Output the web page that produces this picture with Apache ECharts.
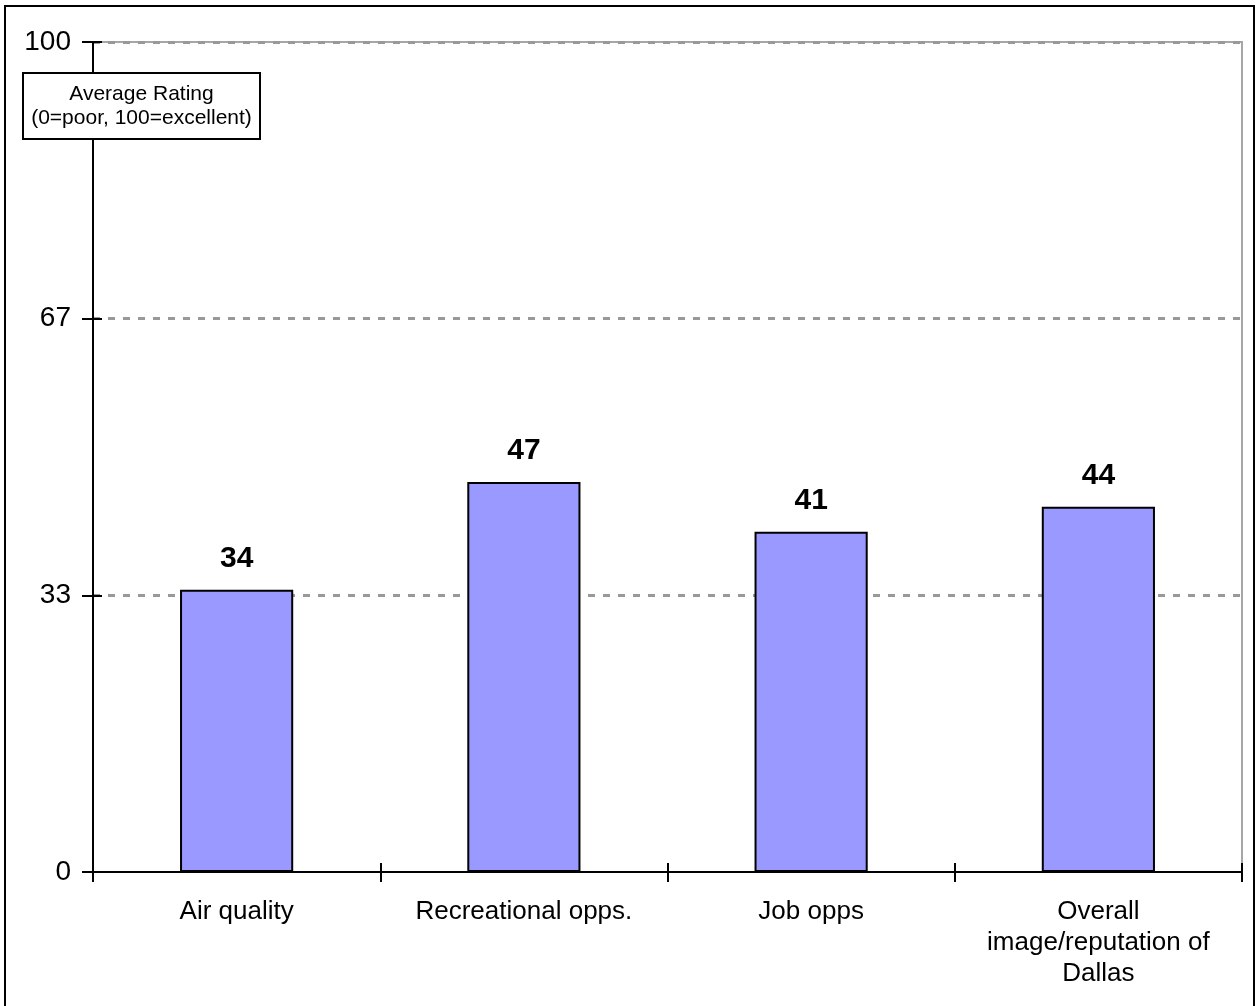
<!DOCTYPE html>
<html>
<head>
<meta charset="utf-8">
<script src="https://cdn.jsdelivr.net/npm/echarts@6/dist/echarts.min.js"></script>
<style>
html,body{margin:0;padding:0;background:#fff;}
#chart{width:1256px;height:1006px;}
</style>
</head>
<body>
<div id="chart"></div>
<script>
const categories = ['Air quality', 'Recreational opps.', 'Job opps', 'Overall\nimage/reputation of\nDallas'];
const ratings = [34, 47, 41, 44];
const yMin = 0;
const yMax = 100;
const yStep = 100 / 3;
const noteLines = ['Average Rating', '(0=poor, 100=excellent)'];

const FONT = '"Liberation Sans", Arial, sans-serif';
const chart = echarts.init(document.getElementById('chart'), null, {renderer: 'canvas'});

chart.setOption({
  backgroundColor: '#ffffff',
  animation: false,
  grid: {
    left: 93, right: 14, top: 42, bottom: 134,
    show: true, borderColor: '#a6a6a6', borderWidth: 2, backgroundColor: 'transparent'
  },
  xAxis: [{
    type: 'category',
    data: categories,
    position: 'bottom',
    boundaryGap: true,
    axisLine: {show: true, lineStyle: {color: '#000', width: 2}},
    axisTick: {show: true, inside: false, length: 10, lineStyle: {color: '#000', width: 2}},
    axisLabel: {
      color: '#000', fontFamily: FONT, fontSize: 26, lineHeight: 31, margin: 24,
      interval: 0, align: 'center'
    },
    splitLine: {show: false},
    z: 5
  }, {
    type: 'category',
    data: categories,
    position: 'bottom',
    boundaryGap: true,
    axisLine: {show: false},
    axisTick: {show: true, inside: true, length: 9, lineStyle: {color: '#000', width: 2}},
    axisLabel: {show: false},
    splitLine: {show: false},
    z: 5
  }],
  yAxis: [{
    type: 'value',
    min: yMin, max: yMax, interval: yStep,
    position: 'left',
    axisLine: {show: true, lineStyle: {color: '#000', width: 2}},
    axisTick: {show: true, inside: false, length: 11, lineStyle: {color: '#000', width: 2}},
    axisLabel: {
      color: '#000', fontFamily: FONT, fontSize: 28, margin: 22,
      formatter: v => String(Math.round(v))
    },
    splitLine: {show: true, showMinLine: false, lineStyle: {color: '#999999', width: 3, type: [7, 8]}}
  }, {
    type: 'value',
    min: yMin, max: yMax, interval: yStep,
    position: 'left',
    axisLine: {show: false},
    axisTick: {show: true, inside: true, length: 9, lineStyle: {color: '#000', width: 2}},
    axisLabel: {show: false},
    splitLine: {show: false}
  }],
  series: [{
    type: 'bar',
    data: ratings,
    xAxisIndex: 0,
    yAxisIndex: 0,
    barWidth: '39.4%',
    itemStyle: {color: '#9999ff', borderColor: '#000', borderWidth: 2},
    label: {
      show: true, position: 'top', distance: 16,
      color: '#000', fontFamily: FONT, fontSize: 30, fontWeight: 'bold'
    },
    z: 3
  }],
  graphic: [{
    type: 'rect',
    shape: {x: 5, y: 6, width: 1249, height: 1010},
    style: {fill: 'none', stroke: '#000', lineWidth: 2},
    silent: true,
    z: 10
  }, {
    type: 'rect',
    shape: {x: 23, y: 73, width: 237, height: 66},
    style: {fill: '#fff', stroke: '#000', lineWidth: 2},
    z: 20
  }, {
    type: 'text',
    x: 141.5,
    y: 106,
    style: {
      text: noteLines.join('\n'),
      fill: '#000',
      font: '21px ' + FONT,
      lineHeight: 24,
      textAlign: 'center',
      textVerticalAlign: 'middle'
    },
    z: 21
  }]
});
</script>
</body>
</html>
